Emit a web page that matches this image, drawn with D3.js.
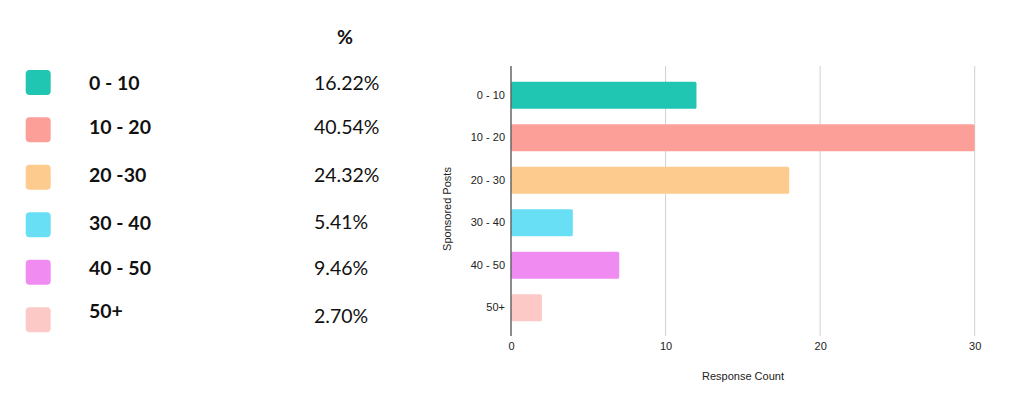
<!DOCTYPE html>
<html><head><meta charset="utf-8">
<script src="https://cdn.jsdelivr.net/npm/d3@7"></script>
<style>body{margin:0;background:#fff}svg{display:block}</style>
</head><body>
<svg id="c" width="1024" height="398"></svg>
<script>
const legendLabels = ["0 - 10","10 - 20","20 -30","30 - 40","40 - 50","50+"];
const percentLabels = ["16.22%","40.54%","24.32%","5.41%","9.46%","2.70%"];
const categories = ["0 - 10","10 - 20","20 - 30","30 - 40","40 - 50","50+"];
const counts = [12,30,18,4,7,2];
const colors = ["#21c6b2","#fd9f99","#fdcb8d","#69dff6","#f08bf2","#fdc9c6"];
const xTicks = [0,10,20,30];

(function(){
const svg = d3.select("#c");

// Left legend table
const rowY = d3.scalePoint().domain(d3.range(6)).range([82.3,319.6]);
const labelNudge = [7.7,4.4,5,5.4,2.7,-1.9];
const pctNudge = [7.7,4.4,5,4.4,2.7,3.1];
svg.append("text").attr("x",345).attr("y",44).attr("text-anchor","middle")
  .attr("font-family","Lato").attr("font-weight","bold").attr("font-size",19.5).attr("fill","#111").text("%");
const rows = svg.append("g").selectAll("g").data(legendLabels).join("g");
rows.append("rect").attr("x",25.7).attr("y",(d,i)=>rowY(i)-12.4).attr("width",25).attr("height",25)
  .attr("rx",4).attr("fill",(d,i)=>colors[i]);
rows.append("text").attr("x",89).attr("y",(d,i)=>rowY(i)+labelNudge[i])
  .attr("font-family","Lato").attr("font-weight","bold").attr("font-size",19.5).attr("fill","#111").text(d=>d);
rows.append("text").attr("x",314).attr("y",(d,i)=>rowY(i)+pctNudge[i])
  .attr("font-family","Lato").attr("font-size",19.5).attr("fill","#111").text((d,i)=>percentLabels[i]);

// Bar chart
const x = d3.scaleLinear().domain([0,30]).range([511,974.7]);
const y = d3.scaleBand().domain(categories).range([74,329]).paddingInner(0.365).paddingOuter(0.18);
const plotTop = 66, plotBottom = 336;

svg.append("g").selectAll("line").data(xTicks.filter(t=>t>0)).join("line")
  .attr("x1",d=>x(d)).attr("x2",d=>x(d)).attr("y1",plotTop).attr("y2",plotBottom)
  .attr("stroke","#d0d0d0").attr("stroke-width",1);

svg.append("g").selectAll("rect").data(counts).join("rect")
  .attr("x",x(0)).attr("y",(d,i)=>y(categories[i]))
  .attr("width",d=>x(d)-x(0)).attr("height",y.bandwidth())
  .attr("rx",1.5).attr("fill",(d,i)=>colors[i]);

svg.append("line").attr("x1",x(0)).attr("x2",x(0)).attr("y1",plotTop).attr("y2",plotBottom)
  .attr("stroke","#666").attr("stroke-width",1.5);

const xAxis = svg.append("g").attr("transform",`translate(0,${plotBottom})`)
  .call(d3.axisBottom(x).tickValues(xTicks).tickFormat(d3.format("d")).tickSize(0).tickPadding(6));
xAxis.select(".domain").remove();
xAxis.selectAll("text").attr("font-family","Liberation Sans, Arial").attr("font-size",11).attr("fill","#222");

const yAxis = svg.append("g").attr("transform",`translate(${x(0)},0)`)
  .call(d3.axisLeft(y).tickSize(0).tickPadding(6));
yAxis.select(".domain").remove();
yAxis.selectAll("text").attr("font-family","Liberation Sans, Arial").attr("font-size",11).attr("fill","#222");

svg.append("text").attr("x",743).attr("y",380).attr("text-anchor","middle")
  .attr("font-family","Liberation Sans, Arial").attr("font-size",11).attr("fill","#222").text("Response Count");
svg.append("text").attr("transform","translate(451,209) rotate(-90)").attr("text-anchor","middle")
  .attr("font-family","Liberation Sans, Arial").attr("font-size",11).attr("fill","#222").text("Sponsored Posts");
})();
</script>
</body></html>
